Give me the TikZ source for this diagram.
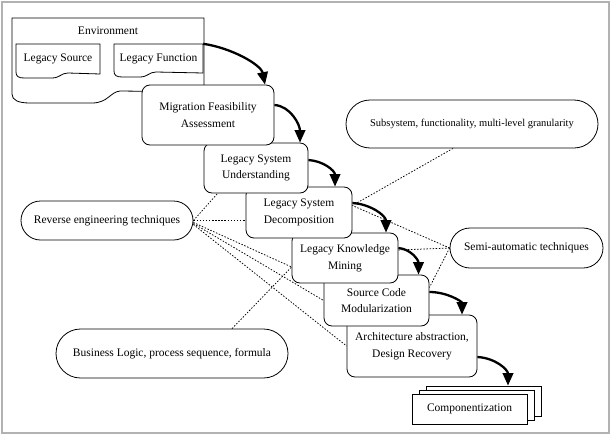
\documentclass[tikz,border=0pt]{standalone}
\usepackage{fontspec}
\setmainfont{Liberation Serif}
\usetikzlibrary{arrows.meta,calc,shapes.misc}
\pgfdeclarelayer{bg}
\pgfsetlayers{bg,main}
\begin{document}
\begin{tikzpicture}[x=1pt,y=-1pt,
  txt/.style={font=\fontsize{11.5}{16.5}\selectfont},
  box/.style={draw, fill=white, rounded corners=8pt, align=center, line width=0.8pt, inner sep=0pt, txt},
  oval/.style={draw, fill=white, rounded rectangle, align=center, line width=0.8pt, inner sep=0pt, txt},
  cbox/.style={draw, fill=white, line width=0.8pt, inner sep=0pt, minimum width=115pt, minimum height=30pt, txt},
  doc/.style={draw, fill=white, line width=0.8pt},
  lbl/.style={inner sep=0pt, txt},
  dots/.style={line width=0.75pt, dash pattern=on 1.5pt off 1.6pt},
  bigarrow/.style={line width=2.3pt, -{Triangle[length=12.5pt,width=10.5pt]}}
]
\useasboundingbox (0,0) rectangle (612,436);
\draw[gray!60, line width=1.5pt] (2,2) rectangle (609,433);

% Environment with its two documents
\draw[doc] (12,18) -- (204,18) -- (204,92) -- (120,91) .. controls (110,92) and (108,103) .. (92,103) -- (30,103) .. controls (18,103) and (12,100) .. (12,94) -- cycle;
\node[lbl] (env) at (108,31) {Environment};
\draw[doc] (16,44) -- (100,44) -- (100,74) -- (68,73) .. controls (61,73) and (60,78) .. (52,78) -- (24,78) .. controls (18,78) and (16,76) .. (16,72) -- cycle;
\node[lbl, minimum width=84pt, minimum height=30pt] (ls) at (58,59) {Legacy Source};
\draw[doc] (114,44) -- (203,44) -- (203,73) -- (156,72) .. controls (149,72) and (148,77) .. (140,77) -- (122,77) .. controls (116,77) and (114,75) .. (114,71) -- cycle;
\node[lbl, minimum width=89pt, minimum height=30pt] (lf) at (158.5,59) {Legacy Function};

% process boxes (later ones below earlier ones)
\node[box, minimum width=130pt, minimum height=62pt] (arc) at (412,346) {Architecture abstraction,\\Design Recovery};
\node[box, minimum width=105pt, minimum height=51pt] (mod) at (376.5,300.5) {Source Code\\Modularization};
\node[box, minimum width=106pt, minimum height=50pt] (min) at (345,258) {Legacy Knowledge\\Mining};
\node[box, minimum width=106pt, minimum height=51pt] (dec) at (299,212.5) {Legacy System\\Decomposition};
\node[box, minimum width=104pt, minimum height=50pt] (und) at (256,168) {Legacy System\\Understanding};
\node[box, minimum width=132pt, minimum height=60pt] (mig) at (208,115) {Migration Feasibility\\Assessment};

% componentization stack
\node[cbox] (comp3) at (483.5,401) {};
\node[cbox] (comp2) at (476.5,405) {};
\node[cbox] (comp) at (469.5,409) {Componentization};

% ovals
\node[oval, minimum width=252pt, minimum height=48pt, font=\fontsize{10.5}{13}\selectfont] (sub) at (472,124) {Subsystem, functionality, multi-level granularity};
\node[oval, minimum width=172pt, minimum height=39pt] (rev) at (107,220.5) {Reverse engineering techniques};
\node[oval, minimum width=153pt, minimum height=40pt] (sem) at (526.5,248) {Semi-automatic techniques};
\node[oval, minimum width=232pt, minimum height=49pt] (bus) at (172,353.5) {Business Logic, process sequence, formula};

% dotted associations
\begin{pgfonlayer}{bg}
\draw[dots] (rev.east) -- ([xshift=14pt]und.south west);
\draw[dots] (rev.east) -- (dec.west |- rev.east);
\draw[dots] ([yshift=-2pt]rev.east) -- ([yshift=-9pt]min.west);
\draw[dots] ([yshift=-3pt]rev.east) -- (mod.west);
\draw[dots] ([yshift=-4pt]rev.east) -- (arc.west);
\draw[dots] ([xshift=60pt]bus.north) -- ([yshift=-9pt]min.west);
\draw[dots] ([xshift=-19pt]sub.south) -- ([yshift=7pt]dec.east);
\draw[dots] (sem.west) -- ([yshift=7pt]dec.east);
\draw[dots] (sem.west) -- ([yshift=8pt]min.east);
\draw[dots] (sem.west) -- ([yshift=13pt]mod.east);
\end{pgfonlayer}

% flow arrows
\draw[bigarrow] (lf.north east) .. controls +(28,4) and +(-4,-20) .. ([xshift=57pt]mig.north);
\draw[bigarrow] ([yshift=10pt]mig.east) .. controls +(16,1) and +(0,-18) .. ([xshift=44pt]und.north);
\draw[bigarrow] ([yshift=8pt]und.east) .. controls +(15,1) and +(0,-16) .. ([xshift=36pt]dec.north);
\draw[bigarrow] ([yshift=9.5pt]dec.east) .. controls +(18,1) and +(0,-17) .. ([xshift=41pt]min.north);
\draw[bigarrow] ([yshift=10pt]min.east) .. controls +(12,1) and +(0,-15) .. ([xshift=42pt]mod.north);
\draw[bigarrow] ([yshift=8.5pt]mod.east) .. controls +(18,0) and +(0,-13) .. ([xshift=50pt]arc.north);
\draw[bigarrow] ([yshift=-11pt]arc.east) .. controls +(18,1) and +(0,-16) .. ([xshift=24.5pt]comp3.north);
\end{tikzpicture}
\end{document}
